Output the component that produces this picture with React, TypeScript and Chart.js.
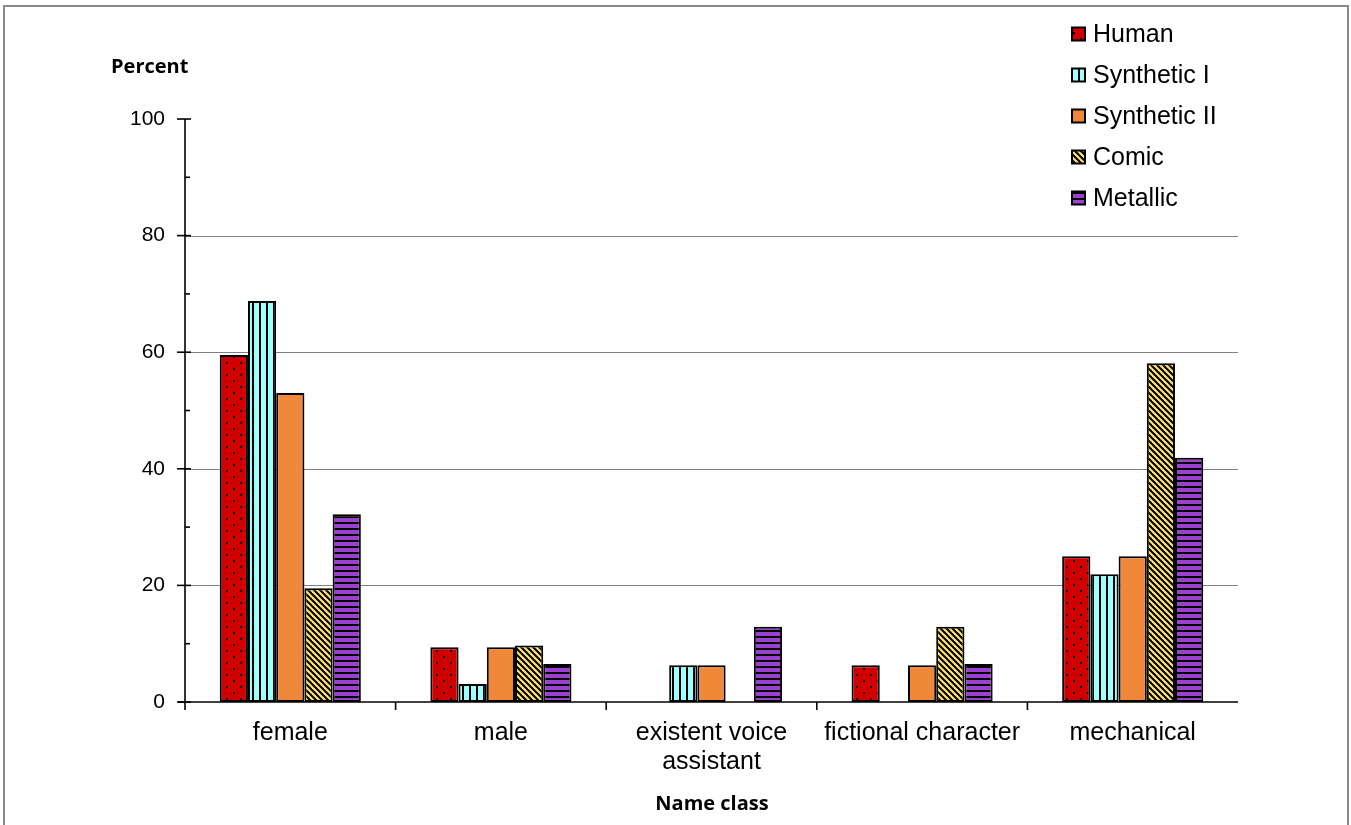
import React, { useEffect, useRef } from "react";
import { Chart, registerables } from "chart.js";

Chart.register(...registerables);

const categories: (string | string[])[] = ["female", "male", ["existent voice", "assistant"], "fictional character", "mechanical"];
const seriesNames = ["Human", "Synthetic I", "Synthetic II", "Comic", "Metallic"];
const human = [59.5, 9.4, 0, 6.3, 25.0];
const synthetic1 = [68.8, 3.1, 6.3, 0, 21.9];
const synthetic2 = [53.0, 9.4, 6.3, 6.3, 25.0];
const comic = [19.5, 9.7, 0, 12.9, 58.1];
const metallic = [32.2, 6.5, 12.9, 6.5, 41.9];
const gridValues = [20, 40, 60, 80];
const majorTicks = [0, 20, 40, 60, 80, 100];
const minorTicks = [10, 30, 50, 70, 90];
const yTitle = "Percent";
const xTitle = "Name class";

type Kind = "dots" | "vstripes" | "solid" | "diag" | "hstripes";

function makePattern(kind: Kind, bg: string): CanvasPattern | string {
  const c = document.createElement("canvas");
  let w = 8, h = 8;
  if (kind === "dots") { w = 14; h = 12; }
  if (kind === "vstripes") { w = 7; h = 4; }
  if (kind === "hstripes") { w = 4; h = 6; }
  if (kind === "diag") { w = 6; h = 6; }
  c.width = w; c.height = h;
  const ctx = c.getContext("2d")!;
  ctx.fillStyle = bg;
  ctx.fillRect(0, 0, w, h);
  ctx.fillStyle = "#000";
  ctx.strokeStyle = "#000";
  if (kind === "dots") {
    ctx.fillRect(2, 2, 2, 2);
    ctx.fillRect(9, 8, 2, 2);
  } else if (kind === "vstripes") {
    ctx.fillRect(0, 0, 2, h);
  } else if (kind === "hstripes") {
    ctx.fillRect(0, 0, w, 2);
  } else if (kind === "diag") {
    ctx.lineWidth = 2;
    for (const o of [-6, 0, 6]) {
      ctx.beginPath();
      ctx.moveTo(o - 1, -1);
      ctx.lineTo(o + 7, 7);
      ctx.stroke();
    }
  }
  const p = ctx.createPattern(c, "repeat");
  return p || bg;
}

export default function App() {
  const ref = useRef<HTMLCanvasElement>(null);

  useEffect(() => {
    if (!ref.current) return;
    const fills = [
      makePattern("dots", "#D00000"),
      makePattern("vstripes", "#A0FFFF"),
      makePattern("solid", "#F0883A"),
      makePattern("diag", "#FFE36E"),
      makePattern("hstripes", "#9B40D0"),
    ];
    const values = [human, synthetic1, synthetic2, comic, metallic];

    const decor = {
      id: "decor",
      beforeDatasetsDraw(chart: any) {
        const ctx = chart.ctx;
        const y = chart.scales.y;
        const { left, right } = chart.chartArea;
        ctx.save();
        ctx.strokeStyle = "#808080";
        ctx.lineWidth = 1.2;
        for (const v of gridValues) {
          const py = Math.round(y.getPixelForValue(v)) + 0.5;
          ctx.beginPath();
          ctx.moveTo(left, py);
          ctx.lineTo(right, py);
          ctx.stroke();
        }
        ctx.restore();
      },
      afterDatasetsDraw(chart: any) {
        const ctx = chart.ctx;
        const y = chart.scales.y;
        const x = chart.scales.x;
        const { left, right, top, bottom } = chart.chartArea;
        ctx.save();
        ctx.strokeStyle = "#000";
        ctx.lineWidth = 1.6;
        // y axis
        ctx.beginPath();
        ctx.moveTo(left, top);
        ctx.lineTo(left, bottom + 8);
        ctx.stroke();
        // x axis
        ctx.beginPath();
        ctx.moveTo(left - 7, bottom);
        ctx.lineTo(right, bottom);
        ctx.stroke();
        for (const v of majorTicks) {
          const py = y.getPixelForValue(v);
          ctx.beginPath();
          ctx.moveTo(left - 8, py);
          ctx.lineTo(left + 6, py);
          ctx.stroke();
        }
        for (const v of minorTicks) {
          const py = y.getPixelForValue(v);
          ctx.beginPath();
          ctx.moveTo(left, py);
          ctx.lineTo(left + 5, py);
          ctx.stroke();
        }
        // category boundary ticks
        const n = categories.length;
        for (let i = 1; i < n; i++) {
          const px = (x.getPixelForValue(i - 1) + x.getPixelForValue(i)) / 2;
          ctx.beginPath();
          ctx.moveTo(px, bottom);
          ctx.lineTo(px, bottom + 8);
          ctx.stroke();
        }
        // titles
        ctx.fillStyle = "#000";
        ctx.font = "bold 20px 'Open Sans'";
        ctx.textBaseline = "alphabetic";
        ctx.textAlign = "left";
        ctx.fillText(yTitle, 111, 73);
        ctx.textAlign = "center";
        ctx.fillText(xTitle, 712, 810);
        // legend
        ctx.font = "25px 'Liberation Sans'";
        ctx.textAlign = "left";
        ctx.textBaseline = "middle";
        seriesNames.forEach((name, i) => {
          const cy = 34 + i * 41;
          ctx.fillStyle = fills[i] as any;
          ctx.fillRect(1072, cy - 6.5, 13, 13);
          ctx.lineWidth = 2;
          ctx.strokeStyle = "#000";
          ctx.strokeRect(1072, cy - 6.5, 13, 13);
          ctx.fillStyle = "#000";
          ctx.fillText(name, 1093, cy + 1);
        });
        // border
        ctx.strokeStyle = "#8a8a8a";
        ctx.lineWidth = 2;
        ctx.strokeRect(4, 6, 1344, 840);
        ctx.restore();
      },
    };

    const chart = new Chart(ref.current, {
      type: "bar",
      data: {
        labels: categories as any,
        datasets: seriesNames.map((name, i) => ({
          label: name,
          data: values[i],
          backgroundColor: fills[i] as any,
          borderColor: "#000",
          borderWidth: 2,
          borderSkipped: false,
          categoryPercentage: 0.67,
          barPercentage: 1.0,
        })),
      },
      options: {
        responsive: false,
        animation: false,
        layout: { padding: { top: 119, right: 113, left: 0, bottom: 0 } },
        plugins: { legend: { display: false }, tooltip: { enabled: false }, title: { display: false } },
        scales: {
          x: {
            grid: { display: false, drawTicks: false },
            border: { display: false },
            ticks: {
              color: "#000",
              font: { family: "'Liberation Sans'", size: 25, lineHeight: 1.17 },
              padding: 16,
              maxRotation: 0,
              autoSkip: false,
            },
            afterFit: (s: any) => { s.height = 123; },
          },
          y: {
            min: 0,
            max: 100,
            grid: { display: false, drawTicks: false },
            border: { display: false },
            ticks: {
              stepSize: 20,
              color: "#000",
              font: { family: "'Liberation Sans'", size: 21 },
              padding: 20,
            },
            afterFit: (s: any) => { s.width = 185; },
          },
        },
      },
      plugins: [decor],
    });
    return () => chart.destroy();
  }, []);

  return (
    <div style={{ position: "absolute", left: 0, top: 0, width: 1351, height: 825, background: "#fff" }}>
      <canvas ref={ref} width={1351} height={825} style={{ display: "block", width: 1351, height: 825 }} />
    </div>
  );
}
